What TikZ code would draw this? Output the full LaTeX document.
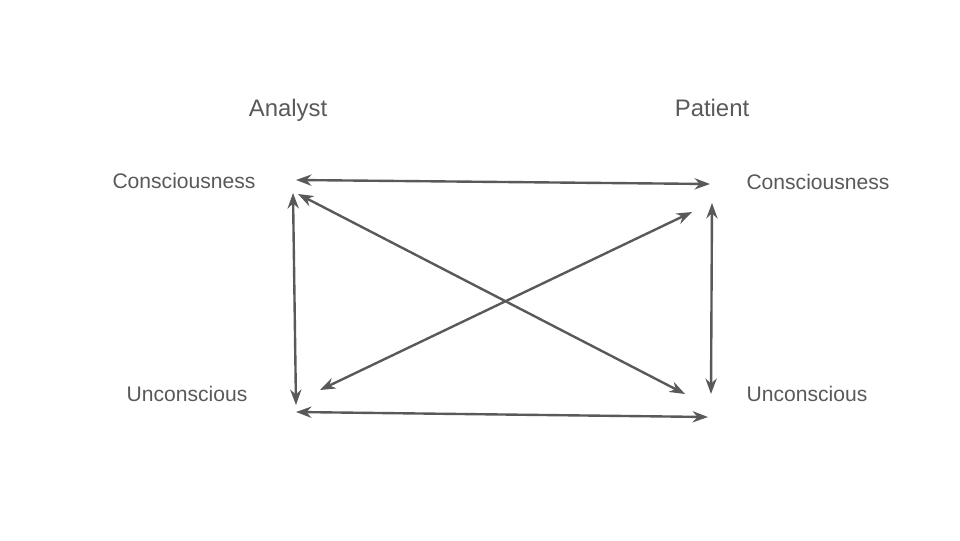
\documentclass[tikz,border=0pt]{standalone}
\usepackage{fontspec}
\setmainfont{Liberation Sans}
\usetikzlibrary{arrows.meta}
\definecolor{ink}{HTML}{595959}
\begin{document}
\begin{tikzpicture}[label/.style={text=ink,font=\fontsize{15}{18}\selectfont},
	head/.style={text=ink,font=\fontsize{17}{20}\selectfont},
	link/.style={{Stealth[length=11pt,width=8pt]}-{Stealth[length=11pt,width=8pt]},draw=ink,line width=1.7pt}]
		\useasboundingbox (0,0) rectangle (24,13.5);
		\node [head] (analyst) at (7.2,10.75) {Analyst};
		\node [head] (patient) at (17.8,10.8) {Patient};
		\node [label] (ac) at (4.6,8.975) {Consciousness};
		\node [label] (pc) at (20.45,8.95) {Consciousness};
		\node [label] (au) at (4.675,3.65) {Unconscious};
		\node [label] (pu) at (20.175,3.65) {Unconscious};
		% arrow ends
		\coordinate (t1) at (7.4,9.0);    \coordinate (t2) at (17.75,8.9);
		\coordinate (l1) at (7.325,8.675); \coordinate (l2) at (7.4,3.375);
		\coordinate (r1) at (17.8,8.425);  \coordinate (r2) at (17.775,3.65);
		\coordinate (b1) at (7.4,3.2);     \coordinate (b2) at (17.7,3.075);
		\coordinate (d1) at (7.45,8.65);   \coordinate (d2) at (17.125,3.65);
		\coordinate (e1) at (17.3,8.2);    \coordinate (e2) at (8.0,3.75);
		\draw [link] (t1) -- (t2);
		\draw [link] (l1) -- (l2);
		\draw [link] (r1) -- (r2);
		\draw [link] (b1) -- (b2);
		\draw [link] (d1) -- (d2);
		\draw [link] (e1) -- (e2);
	\end{tikzpicture}
\end{document}
